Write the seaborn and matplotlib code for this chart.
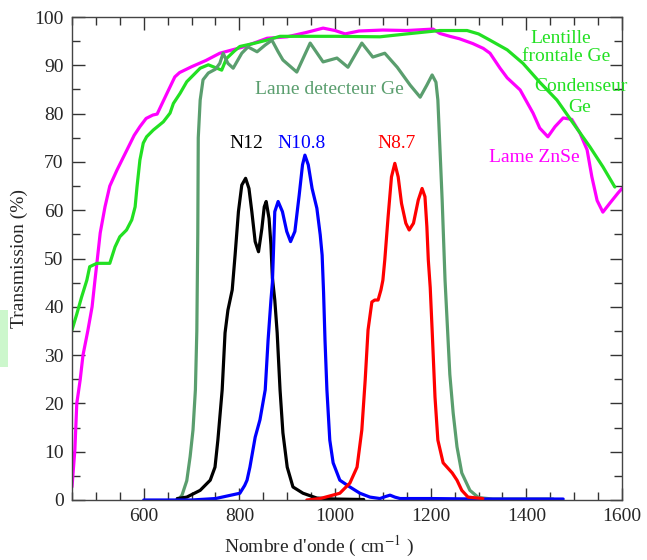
import numpy as np
import pandas as pd
import matplotlib
matplotlib.use("Agg")
import matplotlib.pyplot as plt
from matplotlib.patches import Rectangle
from matplotlib.ticker import MultipleLocator
import seaborn as sns

# Transmission spectra (wavenumber in cm^-1, transmission in %)
znse_x = [450, 456, 460, 467, 473, 483, 492, 498, 502, 509, 519, 529, 544, 565, 580, 592,
          605, 619, 628, 638, 650, 665, 675, 700, 730, 759, 808, 858, 900, 940, 975, 1000,
          1021, 1050, 1100, 1150, 1205, 1219, 1240, 1260, 1288, 1310, 1324, 1345, 1360,
          1387, 1414, 1428, 1445, 1460, 1477, 1495, 1512, 1527, 1537, 1548, 1560, 1575,
          1592, 1600]
znse_y = [2.7, 10.4, 20, 24.8, 30, 35, 40, 45.5, 49, 55.3, 60.7, 65, 68.3, 72.5, 75.5, 77.3,
          79.0, 79.7, 79.9, 82, 84.5, 87.6, 88.5, 89.7, 91, 92.5, 93.8, 95.6, 95.9, 96.8, 97.7,
          97.2, 96.5, 97.1, 97.3, 97.2, 97.5, 96.6, 96.0, 95.5, 94.5, 93.5, 92.5, 89.4, 87.4,
          84.9, 80.1, 77, 75.2, 77.3, 79.1, 78.8, 76, 72.5, 66.9, 62, 59.6, 61.5, 63.6, 64.5]

ge_lens_x = [450, 460, 470, 481, 487, 502, 529, 540, 550, 564, 575, 582, 586, 592, 599, 606,
             620, 641, 655, 662, 676, 690, 704, 718, 735, 753, 763, 773, 790, 801, 829, 857,
             885, 950, 1000, 1094, 1150, 1219, 1276, 1300, 1324, 1360, 1393, 1428, 1464, 1498,
             1533, 1560, 1585]
ge_lens_y = [35.2, 38.5, 42, 45.5, 48.3, 49, 49, 52.4, 54.5, 55.9, 58, 60.7, 64.9, 70.4, 73.9,
             75.2, 76.6, 78.3, 80.1, 82.1, 84.2, 86.6, 88, 89.4, 90.1, 89.4, 89, 91.4, 93, 93.9,
             94.5, 95.2, 96.0, 96, 96, 95.9, 96.5, 97.2, 97.2, 96.5, 95.2, 93.2, 90.4, 86.5,
             82.8, 78, 73.1, 69, 64.8]

det_x = [672, 680, 690, 697, 703, 708, 711, 713, 714, 718, 724, 735, 750, 759, 766, 776, 787,
         805, 818, 837, 854, 868, 881, 891, 920, 948, 975, 1004, 1027, 1056, 1079, 1104, 1130,
         1157, 1178, 1192, 1203, 1211, 1215, 1224, 1230, 1240, 1247, 1255, 1265, 1282, 1300,
         1330, 1400, 1456]
det_y = [0, 1, 4, 9, 14.5, 22.8, 35, 55, 75, 82.8, 87, 88.4, 89.2, 90.4, 92.5, 90.4, 89.4,
         92.5, 93.8, 92.8, 94.2, 95.2, 92.8, 91.1, 88.6, 94.6, 90.7, 91.5, 89.6, 94.6, 91.7,
         92.5, 89.6, 85.9, 83.4, 85.9, 88, 86.5, 82.8, 62, 45.5, 26, 18, 11, 5.6, 2, 0.5,
         0.2, 0.2, 0.2]

n12_x = [670, 690, 718, 739, 749, 755, 764, 770, 776, 785, 791, 798, 805, 813, 820, 826, 833,
         840, 847, 852, 856, 862, 866, 869, 874, 879, 885, 891, 900, 912, 933, 962, 1000, 1060]
n12_y = [0.3, 0.6, 2, 4.1, 6.8, 12.4, 22.8, 34.6, 39.3, 43.5, 50.7, 59.7, 65.2, 66.6, 64.5,
         59.7, 53.5, 51.4, 56.2, 60.7, 61.8, 58.3, 52.8, 46, 41.4, 34.6, 22.8, 13.9, 6.8, 2.7,
         1.4, 0.4, 0.2, 0.1]

n108_x = [600, 650, 700, 750, 801, 811, 816, 822, 833, 843, 854, 860, 866, 869, 871, 874, 881,
          890, 899, 907, 916, 925, 932, 937, 944, 952, 962, 969, 973, 976, 979, 983, 989, 996,
          1010, 1031, 1052, 1073, 1094, 1105, 1115, 1125, 1136, 1200, 1300, 1400, 1477]
n108_y = [0, 0, 0, 0.3, 1.4, 3, 4.1, 6.8, 13, 16.6, 22.8, 33.1, 41.4, 45, 50.7, 59.7, 61.8,
          59.7, 55.6, 53.5, 55.6, 63.1, 69.4, 71.4, 69.4, 64.5, 60.4, 54.9, 50.7, 43, 33.1,
          22.8, 12.4, 7.7, 4.1, 2.7, 1.4, 0.6, 0.3, 0.7, 1, 0.6, 0.3, 0.3, 0.2, 0.2, 0.2]

n87_x = [941, 969, 1010, 1031, 1046, 1056, 1063, 1069, 1077, 1083, 1090, 1096, 1100, 1104,
         1111, 1118, 1125, 1132, 1139, 1148, 1155, 1164, 1174, 1182, 1188, 1192, 1195, 1199,
         1203, 1209, 1215, 1226, 1245, 1255, 1265, 1278, 1309]
n87_y = [0, 0.3, 1.4, 3.5, 6.8, 14.5, 24.8, 35.2, 41, 41.4, 41.4, 43.5, 45.5, 49.7, 58.7,
         66.9, 69.7, 66.9, 61.4, 57.3, 55.9, 57.3, 62.1, 64.5, 62.8, 56.6, 49.7, 44, 35.2,
         21.3, 12.4, 7.7, 5.6, 4.1, 2, 0.6, 0.3]

series = {
    "Lame ZnSe": (znse_x, znse_y),
    "Ge": (ge_lens_x, ge_lens_y),
    "Lame detecteur Ge": (det_x, det_y),
    "N12": (n12_x, n12_y),
    "N10.8": (n108_x, n108_y),
    "N8.7": (n87_x, n87_y),
}
colors = {
    "Lame ZnSe": "#ff00ff",
    "Ge": "#22e022",
    "Lame detecteur Ge": "#5a9e6e",
    "N12": "#000000",
    "N10.8": "#0000ff",
    "N8.7": "#ff0000",
}

df = pd.concat(
    [pd.DataFrame({"nu": x, "T": y, "serie": name}) for name, (x, y) in series.items()],
    ignore_index=True,
)

sns.set_style("ticks")
plt.rcParams["font.family"] = ["Liberation Serif", "DejaVu Serif"]
plt.rcParams["mathtext.fontset"] = "stix"

fig = plt.figure(figsize=(6.47, 5.60), dpi=100)
ax = fig.add_axes([72 / 647, 60 / 560, 550 / 647, 483 / 560])

sns.lineplot(data=df, x="nu", y="T", hue="serie", palette=colors, estimator=None,
             sort=False, legend=False, linewidth=2.3, ax=ax)
for line in ax.lines:
    line.set_solid_joinstyle("round")

ax.set_xlim(450, 1600)
ax.set_ylim(0, 100)
ax.xaxis.set_major_locator(MultipleLocator(200))
ax.xaxis.set_minor_locator(MultipleLocator(50))
ax.yaxis.set_major_locator(MultipleLocator(10))
ax.yaxis.set_minor_locator(MultipleLocator(5))
ax.tick_params(which="both", direction="in", top=True, right=True, width=1,
               color="#333333", labelsize=14, pad=6)
ax.tick_params(which="major", length=9)
ax.tick_params(which="minor", length=5.5)
for s in ax.spines.values():
    s.set_color("#444444")
    s.set_linewidth(1)

ax.set_xlabel("Nombre d'onde ( cm$^{-1}$ )", fontsize=14)
ax.set_ylabel("Transmission (%)", fontsize=14)
ax.xaxis.set_label_coords(0.45, -0.07)
ax.yaxis.set_label_coords(-0.08, 0.5)

txt = dict(fontsize=14, ha="center", va="center")
ax.text(989, 84.9, "Lame detecteur Ge", color=colors["Lame detecteur Ge"], **txt)
ax.text(815, 73.8, "N12", color=colors["N12"], **txt)
ax.text(930, 73.8, "N10.8", color=colors["N10.8"], **txt)
ax.text(1128, 73.8, "N8.7", color=colors["N8.7"], **txt)
ax.text(1472, 95.6, "Lentille", color=colors["Ge"], **txt)
ax.text(1483, 91.8, "frontale Ge", color=colors["Ge"], **txt)
ax.text(1515, 85.6, "Condenseur", color=colors["Ge"], **txt)
ax.text(1512, 81.2, "Ge", color=colors["Ge"], **txt)
ax.text(1416, 71.0, "Lame ZnSe", color=colors["Lame ZnSe"], **txt)

fig.patches.append(Rectangle((0, 193 / 560), 8 / 647, 57 / 560, transform=fig.transFigure,
                             facecolor="#ccf7cc", edgecolor="none", zorder=0))

fig.savefig("out.png", dpi=100, facecolor="white")
